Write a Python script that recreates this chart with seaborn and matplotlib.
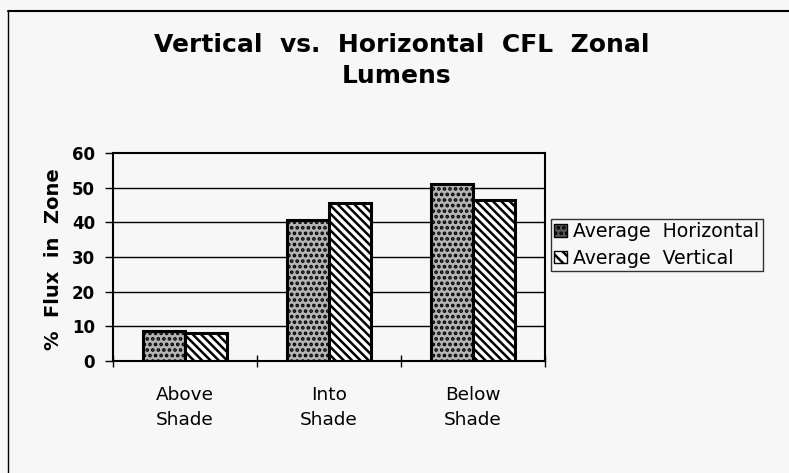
import matplotlib
matplotlib.use("Agg")
import matplotlib.pyplot as plt
import seaborn as sns
import pandas as pd
from matplotlib.patches import Patch
from matplotlib.lines import Line2D

zones = ["Above\nShade", "Into\nShade", "Below\nShade"]
series = ["Average  Horizontal", "Average  Vertical"]
horizontal = [8.7, 40.7, 51.1]
vertical = [8.2, 45.6, 46.5]
yticks = [0, 10, 20, 30, 40, 50, 60]

df = pd.DataFrame({
    "zone": zones * 2,
    "series": [series[0]] * 3 + [series[1]] * 3,
    "value": horizontal + vertical,
})

sns.set_theme(style="white")
plt.rcParams["font.family"] = ["DejaVu Sans"]
plt.rcParams["hatch.linewidth"] = 1.8
for k in ["text.color", "axes.labelcolor", "xtick.color", "ytick.color"]:
    plt.rcParams[k] = "black"

bg = "#f7f7f7"
fig = plt.figure(figsize=(7.89, 4.73), dpi=100, facecolor=bg)
ax = fig.add_axes([113/789, 1 - 361/473, 432/789, 208/473])
ax.set_facecolor(bg)

sns.barplot(data=df, x="zone", y="value", hue="series", hue_order=series,
            order=zones, palette=["#b4b4b4", "white"], width=0.58, gap=0,
            dodge=True, legend=False, ax=ax, saturation=1, errorbar=None)

for i, p in enumerate(ax.patches):
    p.set_edgecolor("black")
    p.set_linewidth(2.2)
    if i >= 3:
        p.set_hatch("\\\\\\\\")
    else:
        p.set_hatch("...")
        if hasattr(p, "set_hatchcolor"):
            p.set_hatchcolor("#7a7a7a")

ax.set_xlim(-0.5, 2.5)
ax.set_ylim(0, 60)
ax.set_yticks(yticks)
ax.set_yticklabels([str(t) for t in yticks], fontsize=12, fontweight="bold")
for y in yticks[1:-1]:
    ax.axhline(y, color="black", lw=1.0, zorder=0.5)

for s in ax.spines.values():
    s.set_color("black")
    s.set_linewidth(1.5)
    s.set_visible(True)

ax.set_xticks([0, 1, 2])
ax.set_xticklabels(zones, fontsize=13.3, linespacing=1.5)
ax.set_xticks([-0.5, 0.5, 1.5, 2.5], minor=True)
ax.tick_params(axis="x", which="major", length=0, pad=18)
ax.tick_params(axis="x", which="minor", direction="inout", length=9, width=1, color="black", bottom=True)
ax.tick_params(axis="y", which="major", direction="out", length=6, width=1, color="black", pad=7, left=True)

ax.set_xlabel("")
ax.set_ylabel("%  Flux  in  Zone", fontsize=14, fontweight="bold")
ax.yaxis.set_label_coords(-0.115, 0.49)

handles = [
    Patch(facecolor="#555555", edgecolor="black", hatch="...", label=series[0]),
    Patch(facecolor="white", edgecolor="black", hatch="\\\\\\", label=series[1]),
]
leg = fig.legend(handles=handles, loc="upper left",
                 bbox_to_anchor=(551/789, 1 - 219/473), frameon=True,
                 fontsize=13.6, handlelength=0.65, handleheight=0.65,
                 handletextpad=0.35, borderpad=0.18, borderaxespad=0,
                 labelspacing=0.38, fancybox=False)
leg.get_frame().set_edgecolor("black")
leg.get_frame().set_linewidth(1.0)
leg.get_frame().set_facecolor(bg)

fig.text(402/789, 1 - 52/473, "Vertical  vs.  Horizontal  CFL  Zonal", ha="center",
         va="baseline", fontsize=18, fontweight="bold")
fig.text(397/789, 1 - 83/473, "Lumens", ha="center",
         va="baseline", fontsize=18, fontweight="bold")

fig.add_artist(Line2D([8/789, 8/789], [0, 1 - 11/473], color="black", lw=1.0, transform=fig.transFigure))
fig.add_artist(Line2D([8/789, 1], [1 - 11/473, 1 - 11/473], color="black", lw=1.5, transform=fig.transFigure))

fig.savefig("out.png", dpi=100, facecolor=bg)
